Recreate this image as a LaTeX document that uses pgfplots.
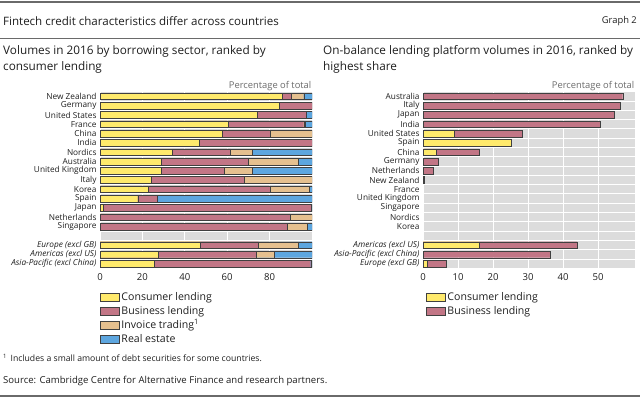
\documentclass[border=0pt]{standalone}
\usepackage{fontspec}
\setmainfont{Open Sans}
\usepackage{pgfplots}
\pgfplotsset{compat=1.18}
\definecolor{cons}{HTML}{FFEA6C}
\definecolor{busi}{HTML}{C27686}
\definecolor{invo}{HTML}{E5C08F}
\definecolor{real}{HTML}{5DA6DF}
\definecolor{bgg}{HTML}{DCDCDC}
\definecolor{rule}{HTML}{6A6A6A}
\definecolor{txt}{HTML}{1E1E1E}
\pgfplotsset{
  panel/.style={
    scale only axis, width=212bp, height=176.6bp,
    xbar, bar shift=0pt, bar width=0.72,
    y dir=reverse, ymin=-0.5, ymax=18.5,
    ytick={0,...,18},
    minor ytick={-0.5,0.5,...,18.5},
    yminorgrids=true, xmajorgrids=true,
    minor grid style={white, line width=0.9bp},
    major grid style={white, line width=1bp},
    axis background/.style={fill=bgg},
    axis line style={draw=none},
    major tick length=0pt, minor tick length=0pt,
    tick label style={font=\fontsize{8.3}{9}\selectfont, text=txt},
    xticklabel style={font=\fontsize{9.6}{10}\selectfont, yshift=-2bp},
    /pgf/number format/assume math mode=true,
    every axis plot/.append style={draw=black!75, line width=0.4bp},
    legend image code/.code={\draw[#1, draw=black!75, line width=0.5bp] (0bp,-3.6bp) rectangle (19bp,3.6bp);},
    reverse legend,
    legend style={draw=none, fill=none, inner sep=0pt, outer sep=0pt,
      font=\fontsize{10.6}{12}\selectfont, text=txt, row sep=2bp,
      nodes={inner ysep=0.5bp, text height=8.5bp, text depth=2.5bp},
      cells={anchor=west}, legend cell align=left},
  }
}
\begin{document}
\begin{tikzpicture}
\path[use as bounding box] (0,0) rectangle (640bp,-401bp);
\draw[rule, line width=1.2bp] (0,-2bp) -- (640bp,-2bp);
\draw[rule, line width=1bp] (0,-38.5bp) -- (640bp,-38.5bp);
\draw[rule, line width=1.2bp] (0,-396bp) -- (640bp,-396bp);
\node[anchor=west, inner sep=0pt, text=txt, font=\fontsize{11.6}{13}\selectfont] at (3bp,-21bp) {Fintech credit characteristics differ across countries};
\node[anchor=east, inner sep=0pt, text=txt, font=\fontsize{9.4}{11}\selectfont] at (637bp,-21bp) {Graph 2};
\node[anchor=north west, inner sep=0pt, align=left, text=txt, font=\fontsize{11.8}{16}\selectfont] at (3bp,-45bp) {Volumes in 2016 by borrowing sector, ranked by\\consumer lending};
\node[anchor=north west, inner sep=0pt, align=left, text=txt, font=\fontsize{11.8}{16}\selectfont] at (323bp,-45bp) {On-balance lending platform volumes in 2016, ranked by\\highest share};
\node[anchor=west, inner sep=0pt, text=txt, font=\fontsize{8.7}{9}\selectfont] at (3bp,-358bp) {\raisebox{2.3bp}{\fontsize{6}{6}\selectfont 1}\hspace{4bp}Includes a small amount of debt securities for some countries.};
\node[anchor=west, inner sep=0pt, text=txt, font=\fontsize{9.6}{10}\selectfont] at (3bp,-381bp) {Source: Cambridge Centre for Alternative Finance and research partners.};
\node[anchor=base east, inner sep=0pt, font=\fontsize{9.4}{10}\selectfont, text=black!58] at (311.5bp,-88bp) {Percentage of total};
\node[anchor=base east, inner sep=0pt, font=\fontsize{9.4}{10}\selectfont, text=black!58] at (634.5bp,-88bp) {Percentage of total};

% Left panel
\begin{axis}[panel, at={(100bp,-268.3bp)}, anchor=south west,
  xmin=0, xmax=100, xtick={0,20,40,60,80},
  yticklabels={New Zealand,Germany,United States,France,China,India,Nordics,Australia,United Kingdom,Italy,Korea,Spain,Japan,Netherlands,Singapore,{},\textit{Europe (excl GB)},\textit{Americas (excl US)},\textit{Asia-Pacific (excl China)}},
  legend style={at={(0,0)}, anchor=north west, yshift=-23bp},
]
\addplot[fill=real] coordinates {(100,0) (100,2) (100,3) (100,6) (100,7) (100,8) (100,10) (100,11) (100,12) (100,14) (100,16) (100,17) (100,18)};
\addlegendentry{Real estate}
\addplot[fill=invo] coordinates {(96.1,0) (96.9,3) (100,4) (71.7,6) (93.7,7) (72.0,8) (100,9) (98.9,10) (100,13) (97.9,14) (93.7,16) (82.2,17)};
\addlegendentry{Invoice trading\textsuperscript{1}}
\addplot[fill=busi] coordinates {(90.1,0) (100,1) (97.2,2) (96.1,3) (80.3,4) (100,5) (61.6,6) (69.8,7) (58.7,8) (68.2,9) (80.3,10) (27.1,11) (99.5,12) (89.8,13) (88.5,14) (74.8,16) (73.5,17) (99.4,18)};
\addlegendentry{Business lending}
\addplot[fill=cons] coordinates {(85.8,0) (84.6,1) (74.3,2) (60.6,3) (57.5,4) (46.9,5) (34.0,6) (29.0,7) (28.8,8) (24.3,9) (22.8,10) (17.8,11) (1.3,12) (0.3,13) (47.4,16) (27.6,17) (25.5,18)};
\addlegendentry{Consumer lending}
\node[anchor=west, inner sep=0pt, font=\itshape\fontsize{8.3}{9}\selectfont, text=txt] at ([xshift=-95bp]axis cs:0,15) {Memo:};
\end{axis}

% Right panel
\begin{axis}[panel, at={(423bp,-268.3bp)}, anchor=south west,
  xmin=0, xmax=60.5, xtick={0,10,20,30,40,50},
  yticklabels={Australia,Italy,Japan,India,United States,Spain,China,Germany,Netherlands,New Zealand,France,United Kingdom,Singapore,Nordics,Korea,{},\textit{Americas (excl US)},\textit{Asia-Pacific (excl China)},\textit{Europe (excl GB)}},
  legend style={at={(0,0)}, anchor=north west, yshift=-23bp, xshift=3bp},
]
\addplot[fill=busi] coordinates {(57.0,0) (56.3,1) (54.6,2) (50.5,3) (28.4,4) (16.0,6) (4.4,7) (2.9,8) (0.4,9) (44.0,16) (36.4,17) (6.5,18)};
\addlegendentry{Business lending}
\addplot[fill=cons] coordinates {(9.0,4) (25.2,5) (3.8,6) (16.0,16) (1.1,18)};
\addlegendentry{Consumer lending}
\node[anchor=west, inner sep=0pt, font=\itshape\fontsize{8.3}{9}\selectfont, text=txt] at ([xshift=-96bp]axis cs:0,15) {Memo:};
\end{axis}
\end{tikzpicture}
\end{document}
